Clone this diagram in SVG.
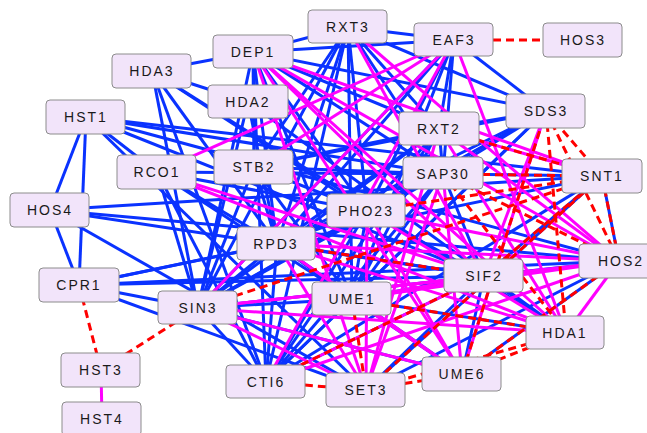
<svg xmlns="http://www.w3.org/2000/svg" width="647" height="433" viewBox="0 0 647 433">
<style>
  .b { stroke: #0a32ff; stroke-width: 3; fill: none; }
  .m { stroke: #ff00ff; stroke-width: 3; fill: none; }
  .r { stroke: #ff0000; stroke-width: 3; fill: none; stroke-dasharray: 8 5; }
  .node rect { fill: #f2e4fa; stroke: #8c8c8c; stroke-width: 1; }
  .node text { font-family: "Liberation Sans", Arial, sans-serif; font-size: 14px; letter-spacing: 2px; fill: #1a1a1a; text-anchor: middle; dominant-baseline: central; }
</style>
<rect width="647" height="433" fill="#ffffff"/>
<g id="connectors">
  <!-- blue edges -->
  <g class="b">
    <!-- core complex -->
    <line x1="277" y1="244" x2="198" y2="308"/>
    <line x1="277" y1="244" x2="352" y2="299"/>
    <line x1="277" y1="244" x2="367" y2="211"/>
    <line x1="277" y1="244" x2="443" y2="174"/>
    <line x1="277" y1="244" x2="546" y2="111"/>
    <line x1="277" y1="244" x2="253" y2="52"/>
    <line x1="277" y1="244" x2="439" y2="129"/>
    <line x1="277" y1="244" x2="348" y2="27"/>
    <line x1="277" y1="244" x2="266" y2="382"/>
    <line x1="198" y1="308" x2="352" y2="299"/>
    <line x1="198" y1="308" x2="367" y2="211"/>
    <line x1="198" y1="308" x2="443" y2="174"/>
    <line x1="198" y1="308" x2="546" y2="111"/>
    <line x1="198" y1="308" x2="253" y2="52"/>
    <line x1="198" y1="308" x2="439" y2="129"/>
    <line x1="198" y1="308" x2="348" y2="27"/>
    <line x1="198" y1="308" x2="266" y2="382"/>
    <line x1="352" y1="299" x2="367" y2="211"/>
    <line x1="352" y1="299" x2="443" y2="174"/>
    <line x1="352" y1="299" x2="546" y2="111"/>
    <line x1="352" y1="299" x2="253" y2="52"/>
    <line x1="352" y1="299" x2="439" y2="129"/>
    <line x1="352" y1="299" x2="348" y2="27"/>
    <line x1="352" y1="299" x2="266" y2="382"/>
    <line x1="367" y1="211" x2="443" y2="174"/>
    <line x1="367" y1="211" x2="546" y2="111"/>
    <line x1="367" y1="211" x2="253" y2="52"/>
    <line x1="367" y1="211" x2="439" y2="129"/>
    <line x1="367" y1="211" x2="348" y2="27"/>
    <line x1="367" y1="211" x2="266" y2="382"/>
    <line x1="443" y1="174" x2="546" y2="111"/>
    <line x1="443" y1="174" x2="253" y2="52"/>
    <line x1="443" y1="174" x2="439" y2="129"/>
    <line x1="443" y1="174" x2="348" y2="27"/>
    <line x1="443" y1="174" x2="266" y2="382"/>
    <line x1="546" y1="111" x2="253" y2="52"/>
    <line x1="546" y1="111" x2="439" y2="129"/>
    <line x1="546" y1="111" x2="348" y2="27"/>
    <line x1="546" y1="111" x2="266" y2="382"/>
    <line x1="253" y1="52" x2="439" y2="129"/>
    <line x1="253" y1="52" x2="348" y2="27"/>
    <line x1="253" y1="52" x2="266" y2="382"/>
    <line x1="439" y1="129" x2="348" y2="27"/>
    <line x1="439" y1="129" x2="266" y2="382"/>
    <line x1="348" y1="27" x2="266" y2="382"/>
    <!-- RCO1 -->
    <line x1="157" y1="172" x2="277" y2="244"/>
    <line x1="157" y1="172" x2="198" y2="308"/>
    <line x1="157" y1="172" x2="352" y2="299"/>
    <line x1="157" y1="172" x2="443" y2="174"/>
    <line x1="157" y1="172" x2="367" y2="211"/>
    <line x1="157" y1="172" x2="266" y2="382"/>
    <!-- EAF3 -->
    <line x1="454" y1="40" x2="348" y2="27"/>
    <line x1="454" y1="40" x2="253" y2="52"/>
    <line x1="454" y1="40" x2="546" y2="111"/>
    <line x1="454" y1="40" x2="277" y2="244"/>
    <line x1="454" y1="40" x2="198" y2="308"/>
    <line x1="454" y1="40" x2="352" y2="299"/>
    <line x1="454" y1="40" x2="367" y2="211"/>
    <line x1="454" y1="40" x2="443" y2="174"/>
    <line x1="454" y1="40" x2="439" y2="129"/>
    <!-- STB2 -->
    <line x1="254" y1="167" x2="198" y2="308"/>
    <line x1="254" y1="167" x2="277" y2="244"/>
    <line x1="254" y1="167" x2="352" y2="299"/>
    <line x1="254" y1="167" x2="367" y2="211"/>
    <line x1="254" y1="167" x2="443" y2="174"/>
    <line x1="254" y1="167" x2="253" y2="52"/>
    <line x1="254" y1="167" x2="348" y2="27"/>
    <line x1="254" y1="167" x2="546" y2="111"/>
    <line x1="254" y1="167" x2="439" y2="129"/>
    <!-- HDA3 / HDA2 -->
    <line x1="152" y1="71" x2="248" y2="102"/>
    <line x1="152" y1="71" x2="253" y2="52"/>
    <line x1="152" y1="71" x2="198" y2="308"/>
    <line x1="152" y1="71" x2="277" y2="244"/>
    <line x1="152" y1="71" x2="266" y2="382"/>
    <line x1="152" y1="71" x2="367" y2="211"/>
    <line x1="152" y1="71" x2="566" y2="333"/>
    <line x1="248" y1="102" x2="566" y2="333"/>
    <line x1="248" y1="102" x2="277" y2="244"/>
    <line x1="248" y1="102" x2="198" y2="308"/>
    <!-- HST1 -->
    <line x1="86" y1="117" x2="50" y2="210"/>
    <line x1="86" y1="117" x2="79" y2="285"/>
    <line x1="86" y1="117" x2="602" y2="176"/>
    <line x1="86" y1="117" x2="619" y2="261"/>
    <line x1="86" y1="117" x2="484" y2="276"/>
    <line x1="86" y1="117" x2="366" y2="390"/>
    <line x1="86" y1="117" x2="157" y2="172"/>
    <line x1="86" y1="117" x2="443" y2="174"/>
    <!-- HOS4 -->
    <line x1="50" y1="210" x2="79" y2="285"/>
    <line x1="50" y1="210" x2="602" y2="176"/>
    <line x1="50" y1="210" x2="619" y2="261"/>
    <line x1="50" y1="210" x2="484" y2="276"/>
    <line x1="50" y1="210" x2="366" y2="390"/>
    <!-- CPR1 -->
    <line x1="79" y1="285" x2="602" y2="176"/>
    <line x1="79" y1="285" x2="619" y2="261"/>
    <line x1="79" y1="285" x2="484" y2="276"/>
    <line x1="79" y1="285" x2="366" y2="390"/>
    <line x1="79" y1="285" x2="198" y2="308"/>
    <line x1="79" y1="285" x2="277" y2="244"/>
    <!-- SET3 complex -->
    <line x1="366" y1="390" x2="602" y2="176"/>
    <line x1="366" y1="390" x2="484" y2="276"/>
    <line x1="366" y1="390" x2="619" y2="261"/>
    <line x1="602" y1="176" x2="484" y2="276"/>
    <line x1="602" y1="176" x2="619" y2="261"/>
    <line x1="484" y1="276" x2="619" y2="261"/>
    <!-- UME6 -->
    <line x1="462" y1="374" x2="198" y2="308"/>
    <line x1="462" y1="374" x2="277" y2="244"/>
    <line x1="462" y1="374" x2="352" y2="299"/>
    <line x1="462" y1="374" x2="484" y2="276"/>
    <line x1="462" y1="374" x2="619" y2="261"/>
    <!-- HDA1 / SIF2 / SNT1 -->
    <line x1="566" y1="333" x2="484" y2="276"/>
    <line x1="566" y1="333" x2="352" y2="299"/>
    <line x1="484" y1="276" x2="443" y2="174"/>
    <line x1="484" y1="276" x2="367" y2="211"/>
    <line x1="484" y1="276" x2="277" y2="244"/>
    <line x1="484" y1="276" x2="198" y2="308"/>
    <line x1="484" y1="276" x2="352" y2="299"/>
    <line x1="484" y1="276" x2="266" y2="382"/>
    <line x1="602" y1="176" x2="266" y2="382"/>
    <line x1="602" y1="176" x2="443" y2="174"/>
  </g>
  <!-- magenta edges -->
  <g class="m">
    <line x1="101" y1="370" x2="102" y2="419"/>
    <line x1="253" y1="52" x2="484" y2="276"/>
    <line x1="253" y1="52" x2="619" y2="261"/>
    <line x1="253" y1="52" x2="602" y2="176"/>
    <line x1="253" y1="52" x2="566" y2="333"/>
    <line x1="253" y1="52" x2="462" y2="374"/>
    <line x1="253" y1="52" x2="366" y2="390"/>
    <line x1="348" y1="27" x2="484" y2="276"/>
    <line x1="348" y1="27" x2="619" y2="261"/>
    <line x1="454" y1="40" x2="566" y2="333"/>
    <line x1="454" y1="40" x2="266" y2="382"/>
    <line x1="454" y1="40" x2="198" y2="308"/>
    <line x1="454" y1="40" x2="254" y2="167"/>
    <line x1="157" y1="172" x2="454" y2="40"/>
    <line x1="157" y1="172" x2="566" y2="333"/>
    <line x1="157" y1="172" x2="484" y2="276"/>
    <line x1="198" y1="308" x2="619" y2="261"/>
    <line x1="198" y1="308" x2="484" y2="276"/>
    <line x1="198" y1="308" x2="566" y2="333"/>
    <line x1="198" y1="308" x2="462" y2="374"/>
    <line x1="198" y1="308" x2="366" y2="390"/>
    <line x1="277" y1="244" x2="619" y2="261"/>
    <line x1="277" y1="244" x2="566" y2="333"/>
    <line x1="277" y1="244" x2="366" y2="390"/>
    <line x1="277" y1="244" x2="462" y2="374"/>
    <line x1="352" y1="299" x2="619" y2="261"/>
    <line x1="352" y1="299" x2="484" y2="276"/>
    <line x1="352" y1="299" x2="462" y2="374"/>
    <line x1="367" y1="211" x2="619" y2="261"/>
    <line x1="367" y1="211" x2="462" y2="374"/>
    <line x1="367" y1="211" x2="366" y2="390"/>
    <line x1="367" y1="211" x2="566" y2="333"/>
    <line x1="443" y1="174" x2="366" y2="390"/>
    <line x1="443" y1="174" x2="462" y2="374"/>
    <line x1="439" y1="129" x2="619" y2="261"/>
    <line x1="439" y1="129" x2="566" y2="333"/>
    <line x1="439" y1="129" x2="602" y2="176"/>
    <line x1="439" y1="129" x2="366" y2="390"/>
    <line x1="266" y1="382" x2="619" y2="261"/>
    <line x1="266" y1="382" x2="484" y2="276"/>
    <line x1="546" y1="111" x2="484" y2="276"/>
    <line x1="546" y1="111" x2="462" y2="374"/>
    <line x1="619" y1="261" x2="566" y2="333"/>
  </g>
  <!-- red dashed edges -->
  <g class="r">
    <line x1="454" y1="40" x2="583" y2="40"/>
    <line x1="79" y1="285" x2="101" y2="370"/>
    <line x1="198" y1="308" x2="101" y2="370"/>
    <line x1="266" y1="382" x2="366" y2="390"/>
    <line x1="366" y1="390" x2="462" y2="374"/>
    <line x1="352" y1="299" x2="366" y2="390"/>
    <line x1="546" y1="111" x2="602" y2="176"/>
    <line x1="546" y1="111" x2="619" y2="261"/>
    <line x1="443" y1="174" x2="602" y2="176"/>
    <line x1="443" y1="174" x2="566" y2="333"/>
    <line x1="367" y1="211" x2="602" y2="176"/>
    <line x1="198" y1="308" x2="602" y2="176"/>
    <line x1="277" y1="244" x2="484" y2="276"/>
    <line x1="602" y1="176" x2="619" y2="261"/>
    <line x1="619" y1="261" x2="462" y2="374"/>
    <line x1="566" y1="333" x2="462" y2="374"/>
    <line x1="566" y1="333" x2="352" y2="299"/>
    <line x1="566" y1="333" x2="366" y2="390"/>
    <line x1="266" y1="382" x2="484" y2="276"/>
    <line x1="366" y1="390" x2="602" y2="176"/>
    <line x1="462" y1="374" x2="546" y2="111"/>
    <line x1="546" y1="111" x2="566" y2="333"/>
    <line x1="439" y1="129" x2="602" y2="176"/>
    <line x1="443" y1="174" x2="619" y2="261"/>
    <line x1="484" y1="276" x2="602" y2="176"/>
  </g>
</g>
<!-- nodes -->
<g id="RXT3" class="node"><rect x="308" y="10" width="79" height="33" rx="4"/><text x="348" y="27">RXT3</text></g>
<g id="EAF3" class="node"><rect x="414" y="23" width="79" height="33" rx="4"/><text x="454" y="40">EAF3</text></g>
<g id="HOS3" class="node"><rect x="543" y="23" width="79" height="34" rx="4"/><text x="583" y="40">HOS3</text></g>
<g id="DEP1" class="node"><rect x="213" y="35" width="80" height="33" rx="4"/><text x="253" y="52">DEP1</text></g>
<g id="HDA3" class="node"><rect x="112" y="54" width="79" height="34" rx="4"/><text x="152" y="71">HDA3</text></g>
<g id="HDA2" class="node"><rect x="208" y="85" width="80" height="33" rx="4"/><text x="248" y="102">HDA2</text></g>
<g id="HST1" class="node"><rect x="46" y="100" width="79" height="34" rx="4"/><text x="86" y="117">HST1</text></g>
<g id="SDS3" class="node"><rect x="506" y="94" width="79" height="34" rx="4"/><text x="546" y="111">SDS3</text></g>
<g id="RXT2" class="node"><rect x="399" y="112" width="80" height="33" rx="4"/><text x="439" y="129">RXT2</text></g>
<g id="RCO1" class="node"><rect x="117" y="155" width="79" height="34" rx="4"/><text x="157" y="172">RCO1</text></g>
<g id="STB2" class="node"><rect x="214" y="150" width="79" height="34" rx="4"/><text x="254" y="167">STB2</text></g>
<g id="SAP30" class="node"><rect x="403" y="157" width="80" height="32" rx="4"/><text x="443" y="174">SAP30</text></g>
<g id="SNT1" class="node"><rect x="562" y="159" width="80" height="34" rx="4"/><text x="602" y="176">SNT1</text></g>
<g id="HOS4" class="node"><rect x="10" y="193" width="79" height="34" rx="4"/><text x="50" y="210">HOS4</text></g>
<g id="PHO23" class="node"><rect x="327" y="194" width="78" height="33" rx="4"/><text x="366" y="211">PHO23</text></g>
<g id="RPD3" class="node"><rect x="237" y="227" width="78" height="33" rx="4"/><text x="276" y="244">RPD3</text></g>
<g id="HOS2" class="node"><rect x="579" y="244" width="80" height="34" rx="4"/><text x="621" y="261">HOS2</text></g>
<g id="SIF2" class="node"><rect x="444" y="259" width="79" height="33" rx="4"/><text x="484" y="276">SIF2</text></g>
<g id="CPR1" class="node"><rect x="39" y="268" width="80" height="34" rx="4"/><text x="79" y="285">CPR1</text></g>
<g id="SIN3" class="node"><rect x="158" y="291" width="79" height="33" rx="4"/><text x="198" y="308">SIN3</text></g>
<g id="UME1" class="node"><rect x="312" y="282" width="79" height="33" rx="4"/><text x="352" y="299">UME1</text></g>
<g id="HDA1" class="node"><rect x="526" y="316" width="78" height="33" rx="4"/><text x="565" y="333">HDA1</text></g>
<g id="UME6" class="node"><rect x="422" y="357" width="79" height="34" rx="4"/><text x="462" y="374">UME6</text></g>
<g id="CTI6" class="node"><rect x="226" y="365" width="79" height="33" rx="4"/><text x="266" y="382">CTI6</text></g>
<g id="SET3" class="node"><rect x="326" y="373" width="79" height="34" rx="4"/><text x="366" y="390">SET3</text></g>
<g id="HST3" class="node"><rect x="61" y="353" width="79" height="34" rx="4"/><text x="101" y="370">HST3</text></g>
<g id="HST4" class="node"><rect x="62" y="402" width="79" height="34" rx="4"/><text x="102" y="419">HST4</text></g>
</svg>
